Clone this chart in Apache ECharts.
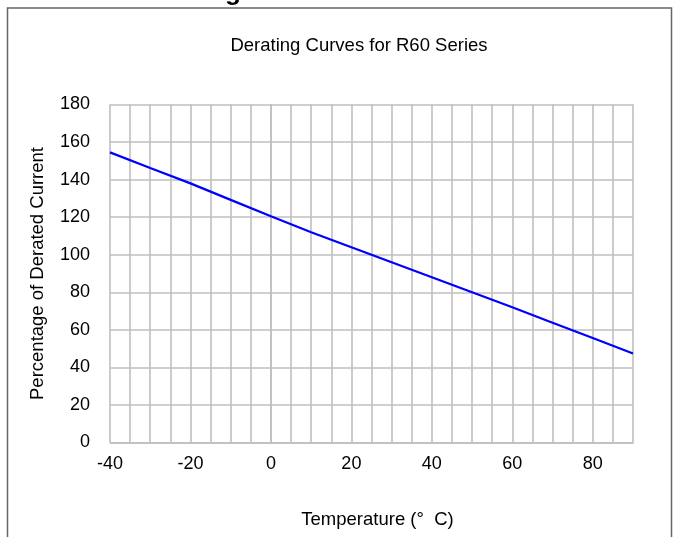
<!DOCTYPE html>
<html>
<head>
<meta charset="utf-8">
<script src="https://cdn.jsdelivr.net/npm/echarts@6/dist/echarts.min.js"></script>
<style>
html,body{margin:0;padding:0;background:#fff;}
#chart{width:678px;height:537px;}
</style>
</head>
<body>
<div id="chart"></div>
<script>
// Data
const temperatures = [-40, -30, -20, -10, 0, 10, 20, 25, 30, 40, 50, 60, 70, 80, 90];
const deratedPercent = [154.5, 146.2, 138, 129.2, 120.5, 112, 104, 100, 96, 88, 80, 72, 63.8, 55.6, 47.4];
const xLabelValues = [-40, -20, 0, 20, 40, 60, 80];
const yTicks = [0, 20, 40, 60, 80, 100, 120, 140, 160, 180];

const titleText = 'Derating Curves for R60 Series';
const xName = 'Temperature (\u00B0  C)';
const yName = 'Percentage of Derated Current';

const font = 'Arial, "Liberation Sans", sans-serif';
const chart = echarts.init(document.getElementById('chart'), null, {renderer: 'canvas'});

chart.setOption({
  animation: false,
  backgroundColor: '#ffffff',
  graphic: [
    {
      type: 'rect', silent: true,
      shape: {x: 7.5, y: 8, width: 664, height: 620},
      style: {fill: 'none', stroke: '#666666', lineWidth: 1.5}
    },
    {
      type: 'text', silent: true,
      style: {x: 241, y: 6, text: 'Derating', textAlign: 'right', verticalAlign: 'bottom', textVerticalAlign: 'bottom',
              fontFamily: font, fontWeight: 'bold', fontSize: 26, fill: '#000'}
    },
    {
      type: 'text', silent: true,
      style: {x: 359, y: 46, text: titleText, textAlign: 'center', verticalAlign: 'middle', textVerticalAlign: 'middle',
              fontFamily: font, fontSize: 18.5, fill: '#000'}
    }
  ],
  grid: {left: 110, right: 45, top: 104.5, bottom: 94.5, containLabel: false},
  xAxis: {
    type: 'value', min: -40, max: 90, interval: 5,
    name: xName, nameLocation: 'middle', nameGap: 68,
    nameTextStyle: {fontFamily: font, fontSize: 18.5, color: '#000', padding: [0, 0, 0, 12]},
    axisLine: {show: true, lineStyle: {color: '#bfbfbf', width: 1.6}},
    axisTick: {show: false},
    axisLabel: {
      fontFamily: font, fontSize: 18, color: '#000', margin: 13,
      showMaxLabel: false,
      formatter: v => (xLabelValues.indexOf(v) >= 0 ? String(v) : '')
    },
    splitLine: {show: true, lineStyle: {color: '#bfbfbf', width: 1.6}}
  },
  yAxis: {
    type: 'value', min: yTicks[0], max: yTicks[yTicks.length - 1], interval: 20,
    name: yName, nameLocation: 'middle', nameGap: 63, nameRotate: 90,
    nameTextStyle: {fontFamily: font, fontSize: 18.5, color: '#000'},
    axisLine: {show: true, lineStyle: {color: '#bfbfbf', width: 1.6}},
    axisTick: {show: false},
    axisLabel: {fontFamily: font, fontSize: 18, color: '#000', margin: 20},
    splitLine: {show: true, lineStyle: {color: '#bfbfbf', width: 1.6}}
  },
  series: [{
    type: 'line',
    data: temperatures.map((t, i) => [t, deratedPercent[i]]),
    showSymbol: false, smooth: false,
    lineStyle: {color: '#0000ff', width: 2.2},
    z: 5
  }]
});
</script>
</body>
</html>
